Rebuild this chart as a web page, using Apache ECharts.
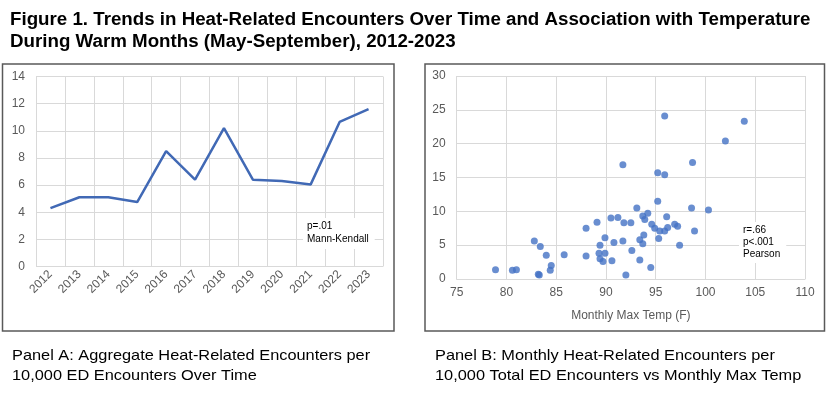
<!DOCTYPE html>
<html>
<head>
    <meta charset="utf-8">
    <title>Figure 1</title>
    <script src="https://cdn.jsdelivr.net/npm/echarts@6/dist/echarts.min.js"></script>
    <style>
        html, body {
            margin: 0;
            padding: 0;
            background: #ffffff;
        }
        #main {
            width: 831px;
            height: 396px;
        }
    </style>
</head>
<body>
<div id="main"></div>
<script>
    // Panel A: aggregate heat-related encounters per 10,000 ED encounters
    var years = ['2012', '2013', '2014', '2015', '2016', '2017', '2018', '2019', '2020', '2021', '2022', '2023'];
    var rates = [4.3, 5.1, 5.1, 4.75, 8.5, 6.4, 10.2, 6.4, 6.3, 6.05, 10.65, 11.6];

    // Panel B: monthly max temp (F) vs monthly encounters per 10,000
    var maxTemp = [78.9, 80.6, 81.0, 82.8, 83.4, 84.0, 83.2, 83.3, 84.4, 84.5,
        85.8, 88.0, 88.0, 89.1, 89.3, 89.4, 89.4, 89.7, 89.9, 89.9,
        90.5, 90.6, 90.8, 91.2, 91.7, 91.7, 91.8, 92.0, 92.5, 92.6,
        93.1, 93.4, 93.4, 93.7, 93.7, 93.9, 93.8, 94.2, 94.5, 94.6,
        94.9, 95.2, 95.2, 95.3, 95.4, 95.9, 95.9, 95.9, 96.1, 96.2,
        96.9, 97.2, 97.4, 98.6, 98.7, 98.9, 100.3, 102.0, 103.9];
    var monthlyRate = [1.35, 1.3, 1.35, 5.6, 4.8, 3.5, 0.7, 0.6, 1.3, 2.0,
        3.6, 3.4, 7.5, 8.4, 3.8, 5.0, 3.0, 2.6, 6.1, 3.8,
        9.0, 2.7, 5.4, 9.1, 16.9, 5.6, 8.3, 0.6, 8.3, 4.2,
        10.5, 5.8, 2.8, 9.3, 5.2, 8.8, 6.5, 9.7, 1.7, 8.1,
        7.5, 11.5, 15.7, 6.0, 7.1, 24.1, 15.4, 7.1, 9.2, 7.6,
        8.1, 7.8, 5.0, 10.5, 17.2, 7.1, 10.2, 20.4, 23.3];

    var yTicksA = [0, 2, 4, 6, 8, 10, 12, 14];
    var yTicksB = [0, 5, 10, 15, 20, 25, 30];
    var xTicksB = [75, 80, 85, 90, 95, 100, 105, 110];

    var points = [];
    for (var i = 0; i < maxTemp.length; i++) {
        points.push([maxTemp[i], monthlyRate[i]]);
    }

    var blue = '#4472c4';
    var gridColor = '#d9d9d9';
    var labelColor = '#595959';
    var font = 'Liberation Sans, Arial, sans-serif';

    var myChart = echarts.init(document.getElementById('main'), null, {renderer: 'canvas'});
    var option = {
        backgroundColor: '#ffffff',
        animation: false,
        textStyle: {fontFamily: font},
        grid: [
            {left: 36, top: 76.5, width: 347, height: 190},
            {left: 456.7, top: 76, width: 348.3, height: 203}
        ],
        xAxis: [
            {
                gridIndex: 0,
                type: 'category',
                data: years,
                boundaryGap: true,
                axisLine: {show: false},
                axisTick: {show: false},
                splitLine: {show: true, lineStyle: {color: gridColor, width: 1}},
                axisLabel: {
                    rotate: 45, margin: 6, interval: 0,
                    color: labelColor, fontSize: 12, fontFamily: font
                }
            },
            {
                gridIndex: 1,
                type: 'value',
                min: xTicksB[0],
                max: xTicksB[xTicksB.length - 1],
                interval: 5,
                name: 'Monthly Max Temp (F)',
                nameLocation: 'middle',
                nameGap: 31,
                nameTextStyle: {color: labelColor, fontSize: 12, fontFamily: font},
                axisLine: {show: true, lineStyle: {color: gridColor, width: 1}},
                axisTick: {show: false},
                splitLine: {show: true, lineStyle: {color: gridColor, width: 1}},
                axisLabel: {margin: 8, color: labelColor, fontSize: 12, fontFamily: font}
            }
        ],
        yAxis: [
            {
                gridIndex: 0,
                type: 'value',
                min: yTicksA[0],
                max: yTicksA[yTicksA.length - 1],
                interval: 2,
                axisLine: {show: false},
                axisTick: {show: false},
                splitLine: {show: true, lineStyle: {color: gridColor, width: 1}},
                axisLabel: {margin: 11, color: labelColor, fontSize: 12, fontFamily: font}
            },
            {
                gridIndex: 1,
                type: 'value',
                min: yTicksB[0],
                max: yTicksB[yTicksB.length - 1],
                interval: 5,
                axisLine: {show: false},
                axisTick: {show: false},
                splitLine: {show: true, lineStyle: {color: gridColor, width: 1}},
                axisLabel: {margin: 11, color: labelColor, fontSize: 12, fontFamily: font}
            }
        ],
        series: [
            {
                type: 'line',
                xAxisIndex: 0,
                yAxisIndex: 0,
                data: rates,
                showSymbol: false,
                symbol: 'none',
                lineStyle: {color: '#4169b5', width: 2.5}
            },
            {
                type: 'scatter',
                xAxisIndex: 1,
                yAxisIndex: 1,
                data: points,
                symbolSize: 7,
                itemStyle: {color: blue}
            }
        ],
        graphic: [
            // panel frames
            {type: 'rect', shape: {x: 2.5, y: 64, width: 391.5, height: 267}, style: {fill: null, stroke: '#595959', lineWidth: 1.5}, z: 100},
            {type: 'rect', shape: {x: 425, y: 64, width: 399.5, height: 267}, style: {fill: null, stroke: '#595959', lineWidth: 1.5}, z: 100},
            // figure title
            {type: 'text', x: 10, y: 9.5, scaleX: 1.07, style: {
                text: 'Figure 1. Trends in Heat-Related Encounters Over Time and Association with Temperature\nDuring Warm Months (May-September), 2012-2023',
                font: 'bold 17.5px ' + font, fill: '#000000', lineHeight: 22, verticalAlign: 'top'
            }},
            // stats notes (white box hides the gridlines behind them)
            {type: 'text', x: 303, y: 218, z: 50, style: {
                text: 'p=.01\nMann-Kendall', font: '10px ' + font, fill: '#000000', lineHeight: 13,
                verticalAlign: 'top', backgroundColor: '#ffffff', padding: [2, 6, 3, 4]
            }},
            {type: 'text', x: 739, y: 222, z: 50, style: {
                text: 'r=.66\np<.001\nPearson', font: '10px ' + font, fill: '#000000', lineHeight: 12,
                verticalAlign: 'top', backgroundColor: '#ffffff', padding: [2, 6, 3, 4]
            }},
            // panel captions
            {type: 'text', x: 12, y: 345.5, scaleX: 1.09, style: {
                text: 'Panel A: Aggregate Heat-Related Encounters per\n10,000 ED Encounters Over Time',
                font: '15px ' + font, fill: '#000000', lineHeight: 20, verticalAlign: 'top'
            }},
            {type: 'text', x: 435, y: 345.5, scaleX: 1.09, style: {
                text: 'Panel B: Monthly Heat-Related Encounters per\n10,000 Total ED Encounters vs Monthly Max Temp',
                font: '15px ' + font, fill: '#000000', lineHeight: 20, verticalAlign: 'top'
            }}
        ]
    };
    myChart.setOption(option);
</script>
</body>
</html>
